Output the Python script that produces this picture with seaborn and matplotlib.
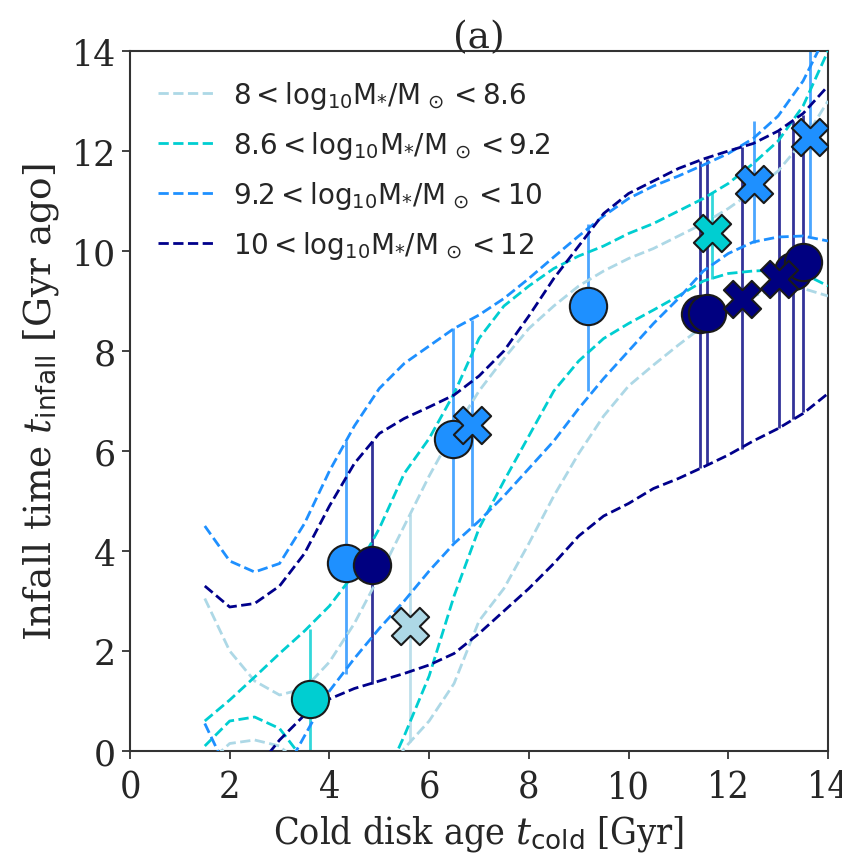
import numpy as np
import pandas as pd
import matplotlib
matplotlib.use("Agg")
import matplotlib.pyplot as plt
import seaborn as sns
from matplotlib import font_manager as fm
from matplotlib.lines import Line2D

# ---------------- data ----------------
X_GRID = [1.5, 2.0, 2.5, 3.0, 3.5, 4.0, 4.5, 5.0, 5.5, 6.0, 6.5, 7.0, 7.5,
          8.0, 8.5, 9.0, 9.5, 10.0, 10.5, 11.0, 11.5, 12.0, 12.5, 13.0, 13.5, 14.0]

LB_HI = [3.05, 2.0, 1.4, 1.12, 1.25, 1.78, 2.55, 3.5, 4.5, 5.5, 6.4, 7.2, 7.85,
         8.45, 8.9, 9.3, 9.6, 9.85, 10.05, 10.3, 10.55, 10.85, 11.2, 11.6, 12.2, 13.0]
LB_LO = [-0.3, 0.15, 0.22, 0.1, -0.35, -0.9, -1.1, -0.8, 0.05, 0.6, 1.35, 2.6, 3.25,
         4.15, 5.1, 5.95, 6.7, 7.3, 7.72, 8.12, 8.5, 8.85, 9.1, 9.25, 9.25, 9.1]

TQ_HI = [0.6, 1.02, 1.48, 1.95, 2.4, 2.9, 3.55, 4.45, 5.55, 6.25, 7.15, 8.25, 8.9,
         9.3, 9.65, 9.9, 10.1, 10.35, 10.55, 10.8, 11.05, 11.35, 11.75, 12.2, 12.9, 14.0]
TQ_LO = [0.1, 0.6, 0.68, 0.45, -0.2, -0.9, -1.2, -0.8, 0.3, 1.5, 3.1, 4.45, 5.4,
         6.3, 7.2, 7.8, 8.25, 8.55, 8.82, 9.1, 9.4, 9.55, 9.6, 9.62, 9.55, 9.3]

DB_HI = [4.5, 3.8, 3.58, 3.75, 4.55, 5.6, 6.5, 7.25, 7.75, 8.1, 8.45, 8.72, 9.05,
         9.45, 9.88, 10.3, 10.7, 11.05, 11.3, 11.5, 11.72, 11.95, 12.25, 12.7, 13.4, 14.4]
DB_LO = [0.55, -0.5, -0.9, -0.6, 0.3, 1.2, 1.85, 2.45, 3.0, 3.6, 4.15, 4.6, 5.1,
         5.65, 6.2, 6.85, 7.45, 8.0, 8.55, 9.05, 9.6, 9.95, 10.18, 10.28, 10.3, 10.2]

NV_HI = [3.3, 2.88, 2.95, 3.3, 3.95, 4.9, 5.75, 6.35, 6.65, 6.88, 7.12, 7.5, 8.0,
         8.7, 9.45, 10.1, 10.75, 11.15, 11.4, 11.65, 11.84, 12.0, 12.15, 12.4, 12.75, 13.3]
NV_LO = [-2.2, -1.2, -0.4, 0.22, 0.72, 1.04, 1.25, 1.4, 1.55, 1.72, 1.95, 2.35, 2.8,
         3.25, 3.75, 4.3, 4.7, 4.95, 5.25, 5.45, 5.68, 5.92, 6.2, 6.45, 6.75, 7.15]

BIN_LABELS = [r"$8 < \mathrm{log_{10}M_{*}/M_{\,\odot}} < 8.6$",
              r"$8.6 < \mathrm{log_{10}M_{*}/M_{\,\odot}} < 9.2$",
              r"$9.2 < \mathrm{log_{10}M_{*}/M_{\,\odot}} < 10$",
              r"$10 < \mathrm{log_{10}M_{*}/M_{\,\odot}} < 12$"]
LINE_COLORS = ["#ADD8E6", "#00CED1", "#1E90FF", "#00008B"]
MARK_COLORS = ["#ADD8E6", "#00CED1", "#1E90FF", "#000080"]

# galaxies: bin index, marker, t_cold, t_infall, lower, upper
PT_BIN = [0, 1, 1, 2, 2, 2, 2, 2, 2, 3, 3, 3, 3, 3, 3, 3]
PT_MARK = ["X", "o", "X", "o", "o", "X", "o", "X", "X",
           "o", "o", "o", "X", "X", "o", "o"]
PT_X = [5.62, 3.61, 11.67, 4.33, 6.47, 6.86, 9.19, 12.52, 13.64,
        4.85, 11.43, 11.57, 12.27, 13.02, 13.3, 13.5]
PT_Y = [2.5, 1.04, 10.36, 3.76, 6.25, 6.53, 8.9, 11.34, 12.28,
        3.72, 8.74, 8.76, 9.04, 9.44, 9.6, 9.78]
PT_LO = [0.18, -0.3, 9.45, 1.55, 4.18, 4.5, 7.2, 10.16, 10.3,
         1.34, 5.66, 5.74, 6.04, 6.47, 6.64, 6.78]
PT_HI = [4.74, 2.44, 11.18, 6.2, 8.47, 8.62, 10.55, 12.6, 14.5,
         6.2, 11.8, 11.84, 12.08, 12.4, 12.6, 12.72]

# ---------------- style ----------------
sns.set_style("white")
plt.rcParams["font.family"] = ["DejaVu Serif"]
plt.rcParams["mathtext.fontset"] = "custom"
plt.rcParams["mathtext.rm"] = "DejaVu Sans"
plt.rcParams["mathtext.sf"] = "DejaVu Sans"
plt.rcParams["mathtext.it"] = "DejaVu Serif:italic"
plt.rcParams["mathtext.bf"] = "DejaVu Sans:bold"

cond = any(f.name == "DejaVu Serif" and str(f.stretch) in ("condensed", "semi-condensed")
           for f in fm.fontManager.ttflist)
stretch = "condensed" if cond else "normal"

fig = plt.figure(figsize=(8.42, 8.54), dpi=100)
ax = fig.add_axes([130 / 842, 1 - 752 / 854, 698 / 842, 700 / 854])

curves = [(LB_LO, LB_HI), (TQ_LO, TQ_HI), (DB_LO, DB_HI), (NV_LO, NV_HI)]
for i, (lo, hi) in enumerate(curves):
    for arr in (hi, lo):
        sns.lineplot(x=X_GRID, y=arr, color=LINE_COLORS[i], linestyle="--",
                     linewidth=2.0, ax=ax, sort=False, zorder=3)

df = pd.DataFrame({"bin": PT_BIN, "mark": PT_MARK, "x": PT_X, "y": PT_Y,
                   "lo": PT_LO, "hi": PT_HI})
for _, r in df.iterrows():
    c = MARK_COLORS[int(r["bin"])]
    ax.errorbar([r["x"]], [r["y"]], yerr=[[r["y"] - r["lo"]], [r["hi"] - r["y"]]],
                fmt="none", ecolor=c, elinewidth=2.0, capsize=0,
                alpha=0.8, zorder=2)

for b in range(4):
    for m in ("o", "X"):
        sub = df[(df["bin"] == b) & (df["mark"] == m)]
        if len(sub) == 0:
            continue
        sns.scatterplot(data=sub, x="x", y="y", marker=m, s=720,
                        color=MARK_COLORS[b], edgecolor="#1a1a1a", linewidth=1.5,
                        ax=ax, legend=False, zorder=5)

ax.set_xlim(0, 14)
ax.set_ylim(0, 14)
ax.set_xticks([0, 2, 4, 6, 8, 10, 12, 14])
ax.set_yticks([0, 2, 4, 6, 8, 10, 12, 14])

for s in ax.spines.values():
    s.set_color("#333333")
    s.set_linewidth(1.5)
ax.tick_params(axis="both", direction="out", length=6, width=1.3,
               color="#333333", bottom=True, left=True)
ax.tick_params(axis="y", labelsize=25, pad=4)
ax.tick_params(axis="x", pad=7)
xsize = 27 if cond else 22
for lab in ax.get_xticklabels():
    lab.set_fontsize(xsize)
    lab.set_fontstretch(stretch)

ax.set_xlabel(r"Cold disk age $t_{\mathrm{cold}}$ [Gyr]", fontsize=27 if cond else 23,
              fontstretch=stretch, labelpad=6)
ax.set_ylabel(r"Infall time $t_{\mathrm{infall}}$ [Gyr ago]", fontsize=27,
              labelpad=8)
ax.set_title("(a)", fontsize=27, pad=3)

handles = [Line2D([], [], color=LINE_COLORS[i], linestyle="--", linewidth=2.0)
           for i in range(4)]
ax.legend(handles, BIN_LABELS, loc="upper left", frameon=False, fontsize=20,
          labelspacing=0.65, handlelength=2.0, handletextpad=0.7,
          borderaxespad=0.6)

fig.savefig("out.png", dpi=100)
